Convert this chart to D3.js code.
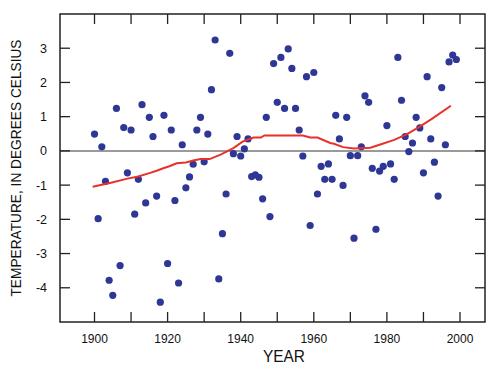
<!DOCTYPE html>
<html>
<head>
<meta charset="utf-8">
<script src="https://cdn.jsdelivr.net/npm/d3@7"></script>
<style>
  body { margin: 0; background: #fff; }
  svg { display: block; font-family: "Liberation Sans", Arial, Helvetica, sans-serif; }
</style>
</head>
<body>
<script>
const W = 497, H = 369;

// annual temperature anomaly, one dot per year
const years = [
  1900, 1901, 1902, 1903, 1904, 1905, 1906, 1907, 1908, 1909,
  1910, 1911, 1912, 1913, 1914, 1915, 1916, 1917, 1918, 1919,
  1920, 1921, 1922, 1923, 1924, 1925, 1926, 1927, 1928, 1929,
  1930, 1931, 1932, 1933, 1934, 1935, 1936, 1937, 1938, 1939,
  1940, 1941, 1942, 1943, 1944, 1945, 1946, 1947, 1948, 1949,
  1950, 1951, 1952, 1953, 1954, 1955, 1956, 1957, 1958, 1959,
  1960, 1961, 1962, 1963, 1964, 1965, 1966, 1967, 1968, 1969,
  1970, 1971, 1972, 1973, 1974, 1975, 1976, 1977, 1978, 1979,
  1980, 1981, 1982, 1983, 1984, 1985, 1986, 1987, 1988, 1989,
  1990, 1991, 1992, 1993, 1994, 1995, 1996, 1997, 1998, 1999
];
const temps = [
  0.49, -1.98, 0.12, -0.89, -3.78, -4.22, 1.24, -3.35, 0.68, -0.64,
  0.61, -1.85, -0.83, 1.35, -1.52, 0.98, 0.42, -1.32, -4.42, 1.04,
  -3.29, 0.61, -1.45, -3.86, 0.18, -1.08, -0.76, -0.39, 0.61, 0.98,
  -0.32, 0.49, 1.79, 3.24, -3.74, -2.42, -1.26, 2.85, -0.08, 0.42,
  -0.15, 0.06, 0.35, -0.75, -0.70, -0.77, -1.40, 0.98, -1.92, 2.55,
  1.42, 2.73, 1.24, 2.98, 2.41, 1.24, 0.61, -0.15, 2.17, -2.18,
  2.29, -1.26, -0.45, -0.83, -0.38, -0.83, 1.04, 0.35, -1.01, 0.98,
  -0.14, -2.55, -0.14, 0.12, 1.61, 1.42, -0.51, -2.29, -0.59, -0.45,
  0.74, -0.38, -0.83, 2.73, 1.48, 0.42, -0.02, 0.23, 0.98, 0.67,
  -0.64, 2.17, 0.35, -0.33, -1.32, 1.85, 0.18, 2.60, 2.80, 2.67
];

// smoothed trend (red line)
const trendYears = [1899.5, 1904.5, 1909, 1912, 1915, 1917, 1919, 1920.5, 1922.5, 1925, 1927, 1929, 1931.5,
  1934.5, 1938, 1940.5, 1943.5, 1945.5, 1946.5, 1957, 1959, 1961, 1964.5, 1965.5, 1968,
  1971, 1975.5, 1978, 1982, 1985.5, 1989, 1992.5, 1997.5];
const trendTemps = [-1.05, -0.93, -0.81, -0.75, -0.65, -0.58, -0.50, -0.45, -0.36, -0.34, -0.28, -0.24, -0.24,
  -0.11, 0.08, 0.27, 0.39, 0.39, 0.45, 0.45, 0.39, 0.39, 0.23, 0.21, 0.11,
  0.07, 0.09, 0.18, 0.32, 0.49, 0.71, 0.95, 1.32];

const xTicks = [1900, 1910, 1920, 1930, 1940, 1950, 1960, 1970, 1980, 1990, 2000];
const xLabels = [1900, 1920, 1940, 1960, 1980, 2000];
const yTicks = [-4, -3, -2, -1, 0, 1, 2, 3];

// plot frame edges
const m = { left: 60, right: 485, top: 14, bottom: 322 };

const x = d3.scaleLinear().domain([1890.56, 2006.84]).range([m.left, m.right]);
const y = d3.scaleLinear().domain([-5, 4]).range([m.bottom, m.top]);

const svg = d3.select('body').append('svg')
    .attr('width', W)
    .attr('height', H);

// zero line
svg.append('line')
    .attr('x1', m.left).attr('x2', m.right)
    .attr('y1', y(0)).attr('y2', y(0))
    .attr('stroke', '#9a9a9a')
    .attr('stroke-width', 2);

// ticks, all pointing inward
const tickLen = 10;
const ticks = svg.append('g').attr('stroke', '#222').attr('stroke-width', 1.3);
xTicks.forEach(t => {
  ticks.append('line').attr('x1', x(t)).attr('x2', x(t)).attr('y1', m.bottom).attr('y2', m.bottom - tickLen);
  ticks.append('line').attr('x1', x(t)).attr('x2', x(t)).attr('y1', m.top).attr('y2', m.top + tickLen);
});
yTicks.forEach(t => {
  ticks.append('line').attr('x1', m.left).attr('x2', m.left + tickLen).attr('y1', y(t)).attr('y2', y(t));
  ticks.append('line').attr('x1', m.right).attr('x2', m.right - tickLen).attr('y1', y(t)).attr('y2', y(t));
});

// tick labels
svg.append('g').selectAll('text')
  .data(xLabels)
  .join('text')
    .attr('x', d => x(d))
    .attr('y', 343)
    .attr('text-anchor', 'middle')
    .attr('font-size', 12)
    .attr('fill', '#111')
    .text(d => d);

svg.append('g').selectAll('text')
  .data(yTicks)
  .join('text')
    .attr('x', 47)
    .attr('y', d => y(d))
    .attr('dy', '0.36em')
    .attr('text-anchor', 'end')
    .attr('font-size', 12.5)
    .attr('fill', '#111')
    .text(d => d);

// axis titles
svg.append('text')
    .attr('x', 284)
    .attr('y', 362)
    .attr('text-anchor', 'middle')
    .attr('font-size', 16)
    .attr('textLength', 42)
    .attr('lengthAdjust', 'spacingAndGlyphs')
    .attr('fill', '#111')
    .text('YEAR');

svg.append('text')
    .attr('transform', `translate(21, ${(m.top + m.bottom) / 2}) rotate(-90)`)
    .attr('text-anchor', 'middle')
    .attr('font-size', 14.5)
    .attr('textLength', 257)
    .attr('lengthAdjust', 'spacingAndGlyphs')
    .attr('fill', '#111')
    .text('TEMPERATURE, IN DEGREES CELSIUS');

// dots
svg.append('g').selectAll('circle')
  .data(years.map((yr, i) => [yr, temps[i]]))
  .join('circle')
    .attr('cx', d => x(d[0]))
    .attr('cy', d => y(d[1]))
    .attr('r', 3.6)
    .attr('fill', '#2e3796');

// trend line
const line = d3.line()
    .x(d => x(d[0]))
    .y(d => y(d[1]));

svg.append('path')
    .datum(trendYears.map((yr, i) => [yr, trendTemps[i]]))
    .attr('d', line)
    .attr('fill', 'none')
    .attr('stroke', '#e8312a')
    .attr('stroke-width', 2);

// frame
svg.append('rect')
    .attr('x', m.left).attr('y', m.top)
    .attr('width', m.right - m.left).attr('height', m.bottom - m.top)
    .attr('fill', 'none')
    .attr('stroke', '#222')
    .attr('stroke-width', 1.5);
</script>
</body>
</html>
